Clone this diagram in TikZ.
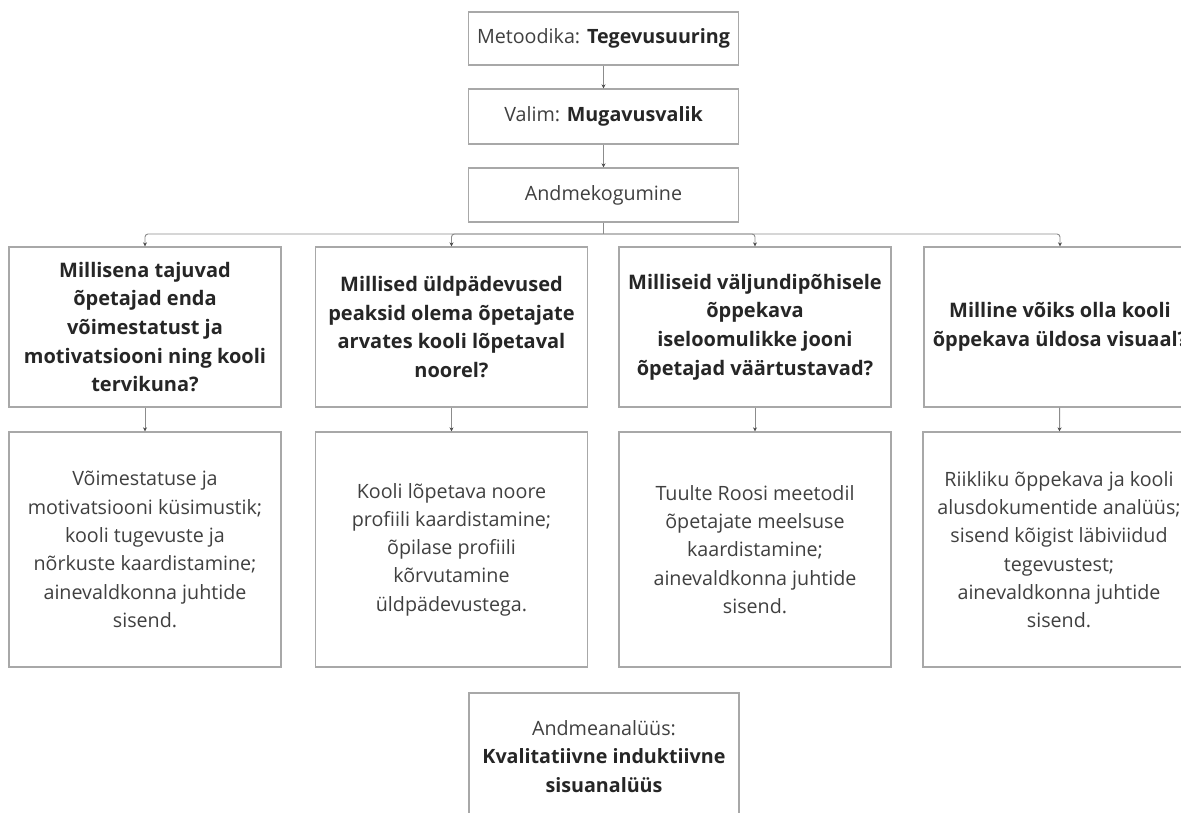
\documentclass[tikz,border=0pt]{standalone}
\usepackage{fontspec}
\setmainfont{Open Sans}
\usetikzlibrary{arrows.meta}
\definecolor{boxc}{HTML}{A8A8A8}
\definecolor{linec}{HTML}{8C8C8C}
\definecolor{txt}{HTML}{404040}
\definecolor{txtb}{HTML}{262626}
\tikzset{
  box/.style={draw=boxc, line width=1.3pt, align=center, text=txt, inner sep=0pt,
    font=\fontsize{19.7}{28.3}\selectfont},
  topbox/.style={box, minimum width=270pt, minimum height=54pt},
  qbox/.style={box, minimum width=272pt, minimum height=160pt, text=txtb,
    font=\fontsize{20}{28.7}\selectfont\bfseries},
  abox/.style={box, minimum width=272pt, minimum height=235pt},
  conn/.style={draw=linec, line width=0.9pt, -{Stealth[length=4pt,width=4pt,color=black!70]}},
  trunk/.style={draw=linec, line width=0.9pt},
}
\begin{document}
\begin{tikzpicture}[x=1pt,y=-1pt]
\useasboundingbox (0,0) rectangle (1181,812);
\clip (0,0) rectangle (1181,812);
\fill[white] (0,0) rectangle (1181,812);

\node[topbox, minimum height=53pt] (meto) at (603.5,38.5) {Metoodika: {\color{txtb}\bfseries Tegevusuuring}};
\node[topbox, minimum height=55pt] (valim) at (603.5,116.5) {Valim: {\color{txtb}\bfseries Mugavusvalik}};
\node[topbox] (andme) at (603.5,195) {Andmekogumine};

\node[qbox] (q1) at (145,327) {Millisena tajuvad\\õpetajad enda\\võimestatust ja\\motivatsiooni ning kooli\\tervikuna?};
\node[qbox] (q2) at (451.5,327) {Millised üldpädevused\\peaksid olema õpetajate\\arvates kooli lõpetaval\\noorel?};
\node[qbox] (q3) at (755,327) {Milliseid väljundipõhisele\\õppekava\\iseloomulikke jooni\\õpetajad väärtustavad?};
\node[qbox] (q4) at (1060,327) {Milline võiks olla kooli\\õppekava üldosa visuaal?};

\node[abox] (a1) at (145,549.5) {Võimestatuse ja\\motivatsiooni küsimustik;\\kooli tugevuste ja\\nõrkuste kaardistamine;\\ainevaldkonna juhtide\\sisend.};
\node[abox] (a2) at (451.5,549.5) {Kooli lõpetava noore\\profiili kaardistamine;\\õpilase profiili\\kõrvutamine\\üldpädevustega.};
\node[abox] (a3) at (755,549.5) {Tuulte Roosi meetodil\\õpetajate meelsuse\\kaardistamine;\\ainevaldkonna juhtide\\sisend.};
\node[abox] (a4) at (1059,549.5) {Riikliku õppekava ja kooli\\alusdokumentide analüüs;\\sisend kõigist läbiviidud\\tegevustest;\\ainevaldkonna juhtide\\sisend.};

\node[box, minimum width=270pt, minimum height=127pt] (anal) at (604,756.5) {Andmeanalüüs:\\{\color{txtb}\bfseries Kvalitatiivne induktiivne}\\{\color{txtb}\bfseries sisuanalüüs}};

\draw[conn] (meto) -- (valim);
\draw[conn] (valim) -- (andme);
\coordinate (bus) at (603.5,234);
\draw[trunk] (andme.south) -- (bus);
\foreach \q in {q1,q2,q3,q4}{
  \draw[conn, rounded corners=3pt] (bus) -| (\q.north);
}
\draw[conn] (q1) -- (a1);
\draw[conn] (q2) -- (a2);
\draw[conn] (q3) -- (a3);
\draw[conn] (q4) -- (a4);
\end{tikzpicture}
\end{document}
